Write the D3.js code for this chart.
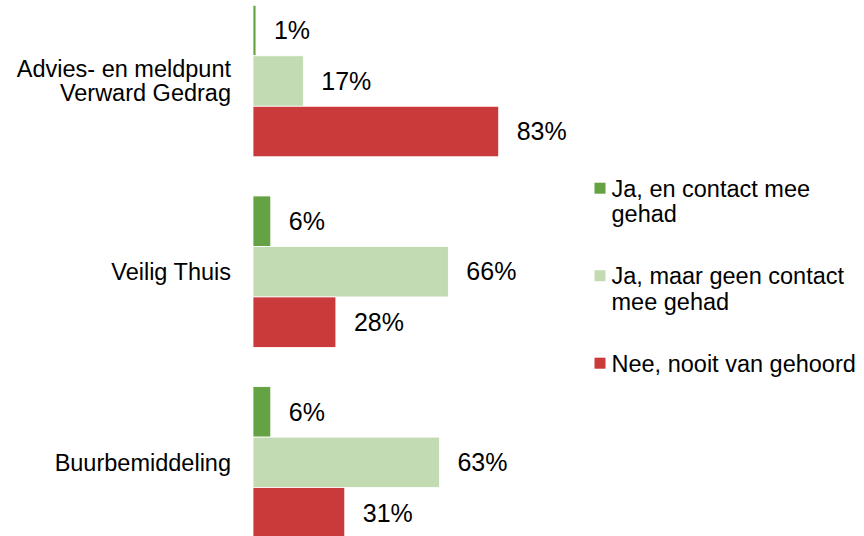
<!DOCTYPE html>
<html>
<head>
<meta charset="utf-8">
<script src="https://cdn.jsdelivr.net/npm/d3@7"></script>
<style>
  body { margin: 0; background: #fff; }
  svg { display: block; font-family: Arial, "Liberation Sans", sans-serif; }
</style>
</head>
<body>
<div id="chart"></div>
<script>
const categories = [
  ['Advies- en meldpunt', 'Verward Gedrag'],
  ['Veilig Thuis'],
  ['Buurbemiddeling']
];
const seriesNames = [
  ['Ja, en contact mee', 'gehad'],
  ['Ja, maar geen contact', 'mee gehad'],
  ['Nee, nooit van gehoord']
];
const seriesColors = ['#64a243', '#c3dbb3', '#cb3a3a'];
const contactValues = [1, 6, 6];
const noContactValues = [17, 66, 63];
const neverValues = [83, 28, 31];

const width = 864, height = 536;
const values = [contactValues, noContactValues, neverValues];

const svg = d3.select('#chart').append('svg')
  .attr('width', width)
  .attr('height', height);

const x = d3.scaleLinear().domain([0, 100]).range([253, 549]);

const y = d3.scaleBand()
  .domain(d3.range(categories.length))
  .range([-14.3, 557.7])
  .paddingInner(0)
  .paddingOuter(0);

const ySub = d3.scaleBand()
  .domain(d3.range(seriesNames.length))
  .range([19.6, y.bandwidth() - 19.6]);

const groups = svg.selectAll('g.group')
  .data(categories)
  .join('g')
    .attr('class', 'group')
    .attr('transform', (d, i) => `translate(0,${y(i)})`);

groups.each(function (cat, ci) {
  const g = d3.select(this);
  const rows = values.map((vals, si) => ({ si, v: vals[ci] }));

  g.selectAll('rect')
    .data(rows)
    .join('rect')
      .attr('x', x(0))
      .attr('y', d => ySub(d.si))
      .attr('width', d => x(d.v) - x(0))
      .attr('height', ySub.bandwidth())
      .attr('fill', d => seriesColors[d.si])
      .attr('stroke', '#fff')
      .attr('stroke-width', 0.8);

  g.selectAll('text.val')
    .data(rows)
    .join('text')
      .attr('class', 'val')
      .attr('x', d => x(d.v) + 18)
      .attr('y', d => ySub(d.si) + ySub.bandwidth() / 2)
      .attr('dy', '0.35em')
      .style('font-size', '25px')
      .attr('fill', '#000')
      .text(d => `${d.v}%`);

  // category label
  const lineH = 24;
  const label = g.append('text')
    .attr('text-anchor', 'end')
    .style('font-size', '23.5px')
    .attr('fill', '#000');
  label.selectAll('tspan')
    .data(cat)
    .join('tspan')
      .attr('x', 231)
      .attr('y', (d, i) => y.bandwidth() / 2 + (i - (cat.length - 1) / 2) * lineH)
      .attr('dy', '0.35em')
      .text(d => d);
});

// legend
const legend = svg.append('g').attr('class', 'legend');
const legendTop = 196.7, legendStep = 87.5, legendLine = 25.5;

const items = legend.selectAll('g')
  .data(seriesNames)
  .join('g')
    .attr('transform', (d, i) => `translate(594,${legendTop + i * legendStep})`);

items.append('rect')
  .attr('x', 0.5)
  .attr('y', -14)
  .attr('width', 11)
  .attr('height', 11)
  .attr('fill', (d, i) => seriesColors[i]);

items.append('text')
  .style('font-size', '23.5px')
  .attr('fill', '#000')
  .selectAll('tspan')
  .data(d => d)
  .join('tspan')
    .attr('x', 17.5)
    .attr('y', (d, i) => i * legendLine)
    .text(d => d);
</script>
</body>
</html>
